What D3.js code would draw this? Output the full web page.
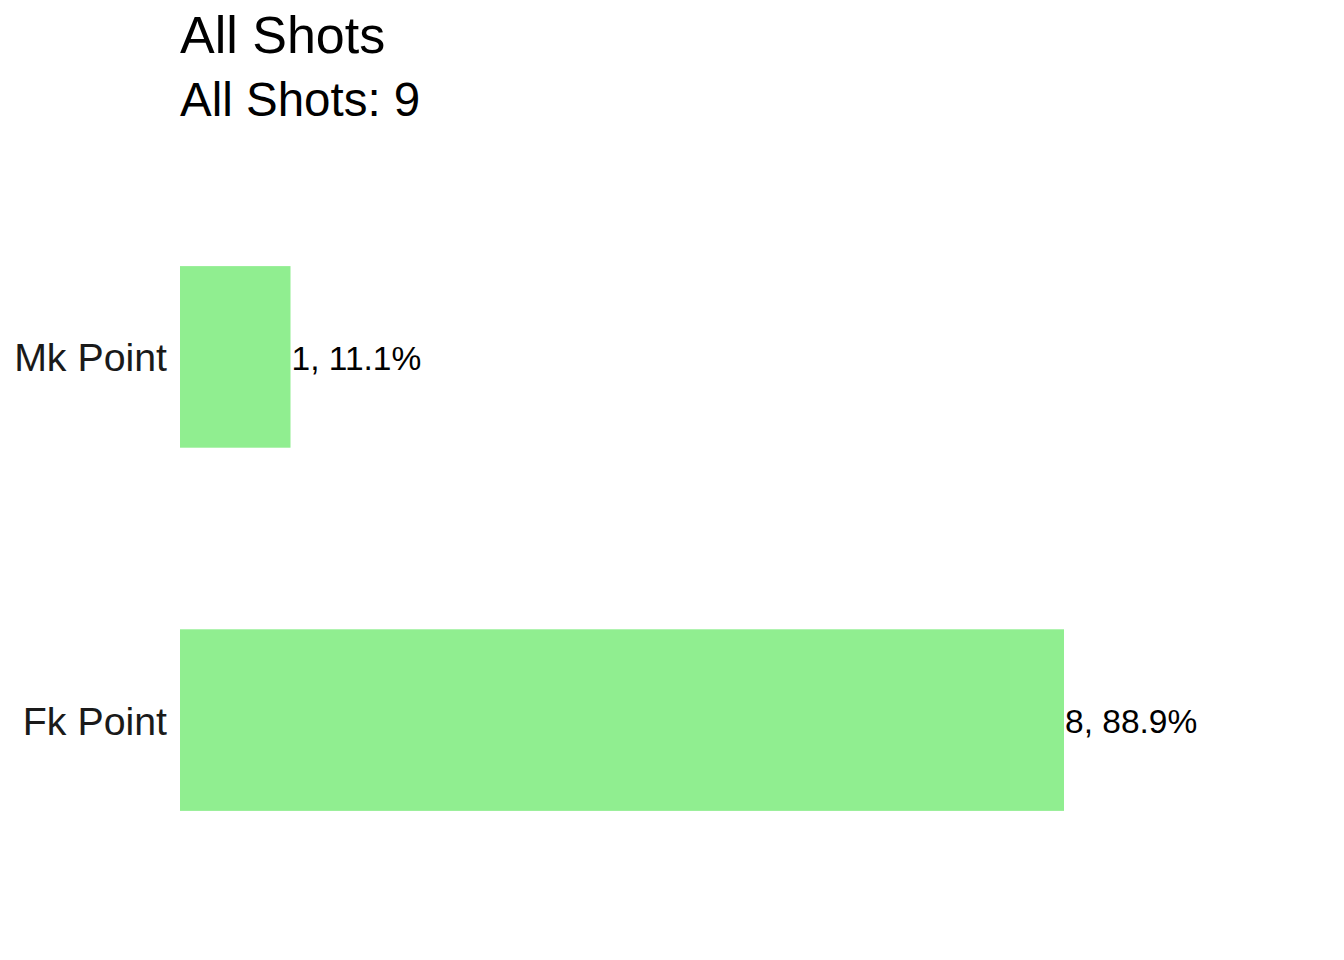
<!DOCTYPE html>
<html><head><meta charset="utf-8">
<script src="https://cdn.jsdelivr.net/npm/d3@7"></script>
<style>body{margin:0;background:#fff}svg{display:block}text{font-family:"Liberation Sans",Arial,sans-serif}</style>
</head><body>
<script>
const categories = ["Mk Point", "Fk Point"];
const counts = [1, 8];
const percents = ["11.1%", "88.9%"];
const titleText = "All Shots";
const subtitleText = "All Shots: 9";

const W = 1344, H = 960;
const svg = d3.select("body").append("svg").attr("width", W).attr("height", H);

const x = d3.scaleLinear().domain([0, 8]).range([180, 1064]);
const y = d3.scalePoint().domain(categories).range([139, 938]).padding(0.6);
const barH = y.step() * 0.5;

const data = categories.map((c, i) => ({cat: c, n: counts[i], pct: percents[i]}));

svg.selectAll("rect.bar").data(data).enter().append("rect")
  .attr("class", "bar")
  .attr("x", x(0))
  .attr("y", d => y(d.cat) - barH / 2)
  .attr("width", d => x(d.n) - x(0))
  .attr("height", barH)
  .attr("fill", "#90EE90");

svg.selectAll("text.val").data(data).enter().append("text")
  .attr("class", "val")
  .attr("x", d => x(d.n) + 1)
  .attr("y", d => y(d.cat) + 13)
  .attr("font-size", 33.5)
  .attr("fill", "#000")
  .text(d => d.n + ", " + d.pct);

const yAxis = d3.axisLeft(y).tickSize(0).tickPadding(13);
const gy = svg.append("g").attr("transform", `translate(${x(0)},0)`).call(yAxis);
gy.select(".domain").remove();
gy.selectAll("text").attr("font-size", 39.3).attr("fill", "#1a1a1a")
  .attr("font-family", "Liberation Sans, Arial, sans-serif")
  .attr("dy", null).attr("y", 14);

svg.append("text").attr("x", 180).attr("y", 53).attr("font-size", 52).attr("fill", "#000").text(titleText);
svg.append("text").attr("x", 180).attr("y", 116).attr("font-size", 47.5).attr("fill", "#000").text(subtitleText);
</script>
</body></html>
